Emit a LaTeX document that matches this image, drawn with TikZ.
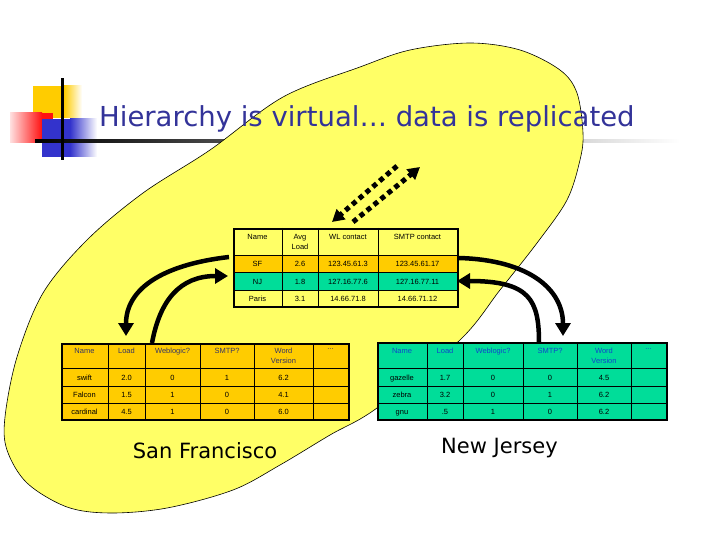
\documentclass[tikz,border=0pt]{standalone}
\usepackage{fontspec}
\setmainfont{DejaVu Sans}
\newfontfamily\cellfont{Liberation Sans}
\usetikzlibrary{arrows.meta}
\definecolor{blob}{HTML}{FFFF66}
\definecolor{orng}{HTML}{FFCC00}
\definecolor{mint}{HTML}{00DD99}
\definecolor{titleblue}{HTML}{333399}
\definecolor{hdrblue}{HTML}{1144CC}
\definecolor{hdrdark}{HTML}{333366}
\definecolor{logoyel}{HTML}{FFCC00}
\definecolor{logored}{HTML}{FF1111}
\definecolor{logoblue}{HTML}{3333CC}
\begin{document}
\begin{tikzpicture}[x=1pt,y=-1pt,
  cell/.style={font=\cellfont\fontsize{7.5}{10}\selectfont, inner sep=0pt, align=center},
  hdr/.style={cell, anchor=north},
  val/.style={cell, anchor=base},
  bigarrow/.style={line width=4.5pt, -{Triangle[length=13pt,width=15pt]}},
  dotarrow/.style={line width=5pt, dash pattern=on 5pt off 4pt, -{Triangle[length=12pt,width=13pt]}},
  gridline/.style={line width=0.8pt},
  tabframe/.style={draw, line width=1.6pt, inner sep=0pt, anchor=north west},
  place/.style={font=\fontsize{21}{25}\selectfont, inner sep=0pt, anchor=base}
]
\useasboundingbox (0,0) rectangle (720,540);
\fill[white] (0,0) rectangle (720,540);

% logo
\fill[logoyel] (33,86) rectangle (64,118);
\shade[left color=logoyel, right color=white] (64,86) rectangle (82,118);
\shade[left color=red!12, right color=logored] (10,113) rectangle (42,143);
\fill[logored] (42,113) rectangle (53,143);
\fill[logoblue] (42,119) rectangle (70,157);
\shade[left color=logoblue, right color=white] (70,119) rectangle (97,157);
\shade[left color=black, right color=white] (35,140) rectangle (680,142.5);
\fill[black] (61,78) rectangle (63.5,160);

% blob
\draw[fill=blob, line width=0.6pt] plot[smooth cycle, tension=0.55] coordinates {
 (470,43) (520,50) (560,70) (577,93) (583,133) (580,160) (567,200) (537,243)
 (500,290) (460,340) (377,408) (330,435) (280,465) (233,490) (167,508) (110,513)
 (67,507) (27,483) (7,450) (5,417) (17,357) (43,293) (87,240) (143,193)
 (210,150) (283,97) (360,67) (410,50)};

% title
\node[anchor=base west, inner sep=0pt, text=titleblue, font=\fontsize{27.5}{33}\selectfont] (title) at (99,127) {Hierarchy is virtual… data is replicated};

% top table
\fill[blob] (233,228) rectangle (457,306);
\fill[orng] (233,255) rectangle (457,272);
\fill[mint] (233,272) rectangle (457,290);
\foreach \y in {255,272,290} \draw[gridline] (233,\y) -- (457,\y);
\foreach \x in {282,318,378} \draw[gridline] (\x,228) -- (\x,306);
\node[tabframe, minimum width=224pt, minimum height=78pt] (toptab) at (233,228) {};
\node[hdr] (T-0-1) at (257.5,234.5) {Name};
\node[hdr] (T-0-2) at (300,234.5) {Avg\\[-0.5pt]Load};
\node[hdr] (T-0-3) at (348,234.5) {WL contact};
\node[hdr] (T-0-4) at (417.5,234.5) {SMTP contact};
\foreach \y/\a/\b/\c/\d [count=\r] in {266.5/SF/2.6/123.45.61.3/123.45.61.17, 284/NJ/1.8/127.16.77.6/127.16.77.11, 301/Paris/3.1/14.66.71.8/14.66.71.12}{
  \node[val] (T-\r-1) at (257.5,\y) {\a};
  \node[val] (T-\r-2) at (300,\y) {\b};
  \node[val] (T-\r-3) at (348,\y) {\c};
  \node[val] (T-\r-4) at (417.5,\y) {\d};
}

% left table (San Francisco)
\fill[orng] (61,343) rectangle (348,419);
\foreach \y in {368,386,403} \draw[gridline] (61,\y) -- (348,\y);
\foreach \x in {108,145,200,254,313} \draw[gridline] (\x,343) -- (\x,419);
\node[tabframe, minimum width=287pt, minimum height=76pt] (sftab) at (61,343) {};
\node[hdr, text=hdrdark] (L-0-1) at (84.5,348) {Name};
\node[hdr, text=hdrdark] (L-0-2) at (126.5,348) {Load};
\node[hdr, text=hdrdark] (L-0-3) at (172.5,348) {Weblogic?};
\node[hdr, text=hdrdark] (L-0-4) at (227,348) {SMTP?};
\node[hdr, text=hdrdark] (L-0-5) at (283.5,348) {Word\\Version};
\node[hdr, text=hdrdark] (L-0-6) at (330.5,348) {...};
\foreach \y/\a/\b/\c/\d/\e [count=\r] in {380/swift/2.0/0/1/6.2, 397.5/Falcon/1.5/1/0/4.1, 414/cardinal/4.5/1/0/6.0}{
  \node[val] (L-\r-1) at (84.5,\y) {\a};
  \node[val] (L-\r-2) at (126.5,\y) {\b};
  \node[val] (L-\r-3) at (172.5,\y) {\c};
  \node[val] (L-\r-4) at (227,\y) {\d};
  \node[val] (L-\r-5) at (283.5,\y) {\e};
}

% right table (New Jersey)
\fill[mint] (377,342) rectangle (666,419);
\foreach \y in {368,386,403} \draw[gridline] (377,\y) -- (666,\y);
\foreach \x in {427,463,523,577,631} \draw[gridline] (\x,342) -- (\x,419);
\node[tabframe, minimum width=289pt, minimum height=77pt] (njtab) at (377,342) {};
\node[hdr, text=hdrblue] (R-0-1) at (402,348) {Name};
\node[hdr, text=hdrblue] (R-0-2) at (445,348) {Load};
\node[hdr, text=hdrblue] (R-0-3) at (493,348) {Weblogic?};
\node[hdr, text=hdrblue] (R-0-4) at (550,348) {SMTP?};
\node[hdr, text=hdrblue] (R-0-5) at (604,348) {Word\\Version};
\node[hdr, text=hdrblue] (R-0-6) at (648.5,348) {...};
\foreach \y/\a/\b/\c/\d/\e [count=\r] in {380/gazelle/1.7/0/0/4.5, 397.5/zebra/3.2/0/1/6.2, 414/gnu/.5/1/0/6.2}{
  \node[val] (R-\r-1) at (402,\y) {\a};
  \node[val] (R-\r-2) at (445,\y) {\b};
  \node[val] (R-\r-3) at (493,\y) {\c};
  \node[val] (R-\r-4) at (550,\y) {\d};
  \node[val] (R-\r-5) at (604,\y) {\e};
}

% place labels
\node[place] (sf) at (205,458) {San Francisco};
\node[place] (nj) at (499.5,453) {New Jersey};

% arrows
\coordinate (a1s) at (229,257); \coordinate (a1e) at (126,336);
\coordinate (a2s) at (152,343); \coordinate (a2e) at (228,276);
\coordinate (a3s) at (459,258); \coordinate (a3e) at (563,336);
\coordinate (a4s) at (539,343); \coordinate (a4e) at (457,281);
\draw[bigarrow] (a1s) .. controls (160,265) and (126,290) .. (a1e);
\draw[bigarrow] (a2s) .. controls (160,300) and (180,276) .. (a2e);
\draw[bigarrow] (a3s) .. controls (530,260) and (563,290) .. (a3e);
\draw[bigarrow] (a4s) .. controls (539,300) and (530,281) .. (a4e);

\coordinate (d1s) at (397,166); \coordinate (d1e) at (332,222);
\coordinate (d2s) at (353,222); \coordinate (d2e) at (420,167);
\draw[dotarrow] (d1s) -- (d1e);
\draw[dotarrow] (d2s) -- (d2e);
\end{tikzpicture}
\end{document}
